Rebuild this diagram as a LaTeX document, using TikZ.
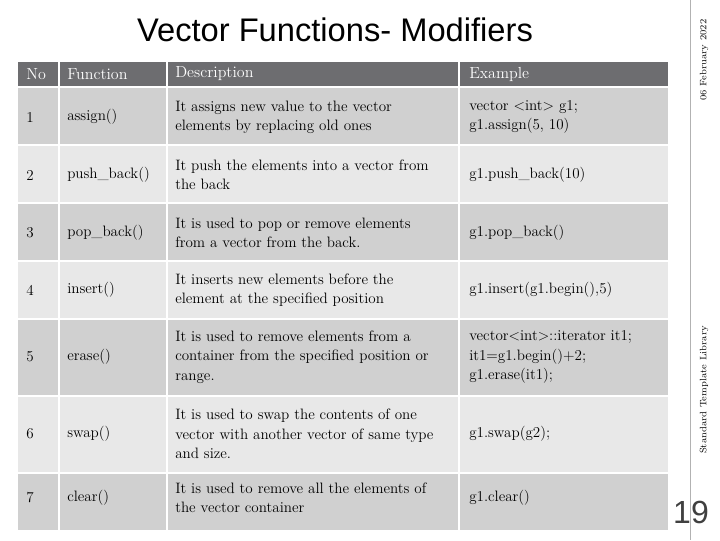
\documentclass[tikz,border=0pt]{standalone}
\usepackage{fontspec}
\newfontfamily\sansf{Liberation Sans}
\begin{document}
\begin{tikzpicture}[x=0.75pt,y=-0.75pt,
 cell/.style={anchor=west,align=left,font=\fontsize{11.3}{14.5}\selectfont,inner sep=0pt},
 htxt/.style={anchor=west,text=white,font=\fontsize{12}{14}\selectfont,inner sep=0pt}]
\definecolor{hdrgray}{HTML}{6D6D70}
\definecolor{rowA}{HTML}{D0D0D0}
\definecolor{rowB}{HTML}{E8E8E8}
\useasboundingbox (0,0) rectangle (720,540);
\fill[white] (0,0) rectangle (720,540);
\node[font=\sansf\fontsize{24.5}{28}\selectfont,anchor=center] (title) at (335,30) {Vector Functions- Modifiers};
% header
\foreach \a/\b in {18/58,60/166,168/458,460/668}{\fill[hdrgray] (\a,62) rectangle (\b,86);}
\node[htxt] (h1) at (26,74) {No};
\node[htxt] (h2) at (67,74) {Function};
\node[htxt] (h3) at (175,74) {Description};
\node[htxt] (h4) at (469,74) {Example};
% rows
\foreach \t/\bt/\c in {88/144/rowA,146/202/rowB,204/260/rowA,262/318/rowB,320/395/rowA,397/472/rowB,474/530/rowA}{
 \foreach \a/\b in {18/58,60/166,168/458,460/668}{\fill[\c] (\a,\t) rectangle (\b,\bt);}}
\node[cell] (n1) at (26,117) {1};
\node[cell] (f1) at (67,117) {assign()};
\node[cell] (d1) at (175,117) {It assigns new value to the vector\\elements by replacing old ones};
\node[cell] (e1) at (469,117) {vector <int> g1;\\g1.assign(5, 10)};
\node[cell] (n2) at (26,175) {2};
\node[cell] (f2) at (67,175) {push\_back()};
\node[cell] (d2) at (175,175) {It push the elements into a vector from\\the back};
\node[cell] (e2) at (469,175) {g1.push\_back(10)};
\node[cell] (n3) at (26,233) {3};
\node[cell] (f3) at (67,233) {pop\_back()};
\node[cell] (d3) at (175,233) {It is used to pop or remove elements\\from a vector from the back.};
\node[cell] (e3) at (469,233) {g1.pop\_back()};
\node[cell] (n4) at (26,290) {4};
\node[cell] (f4) at (67,290) {insert()};
\node[cell] (d4) at (175,290) {It inserts new elements before the\\element at the specified position};
\node[cell] (e4) at (469,290) {g1.insert(g1.begin(),5)};
\node[cell] (n5) at (26,357) {5};
\node[cell] (f5) at (67,357) {erase()};
\node[cell] (d5) at (175,357) {It is used to remove elements from a\\container from the specified position or\\range.};
\node[cell] (e5) at (469,357) {vector<int>::iterator it1;\\it1=g1.begin()+2;\\g1.erase(it1);};
\node[cell] (n6) at (26,434) {6};
\node[cell] (f6) at (67,434) {swap()};
\node[cell] (d6) at (175,434) {It is used to swap the contents of one\\vector with another vector of same type\\and size.};
\node[cell] (e6) at (469,434) {g1.swap(g2);};
\node[cell] (n7) at (26,498) {7};
\node[cell] (f7) at (67,498) {clear()};
\node[cell] (d7) at (175,498) {It is used to remove all the elements of\\the vector container};
\node[cell] (e7) at (469,498) {g1.clear()};
% side
\draw[gray!60] (690,0) -- (690,540);
\node[rotate=90,font=\fontsize{7}{8}\selectfont,anchor=center] (date) at (704,60) {06 February 2022};
\node[rotate=90,font=\fontsize{7}{8}\selectfont,anchor=center] (lib) at (704,390) {Standard Template Library};
\node[font=\sansf\fontsize{24}{28}\selectfont,text=black!75] (pg) at (691,512) {19};
\end{tikzpicture}
\end{document}
